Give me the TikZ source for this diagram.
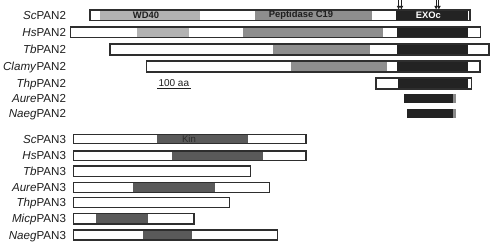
\documentclass[tikz,border=0pt]{standalone}
\usepackage{fontspec}
\setmainfont{Liberation Sans}
\usetikzlibrary{arrows.meta}
\definecolor{ink}{HTML}{1E1E1E}
\definecolor{edge}{HTML}{2E2E2E}
\definecolor{wdfill}{HTML}{B2B2B2}
\definecolor{pepfill}{HTML}{8E8E8E}
\definecolor{exofill}{HTML}{232323}
\definecolor{kinfill}{HTML}{5A5A5A}
\definecolor{kinink}{HTML}{2C2C2C}
\definecolor{tipfill}{HTML}{8A8A8A}
\tikzset{
  species/.style={anchor=base east,font=\fontsize{11.6bp}{13bp}\selectfont,text=ink},
  domainlabel/.style={anchor=center,font=\fontsize{9.4bp}{11bp}\selectfont\bfseries,text=ink},
  barlabel/.style={anchor=base,font=\fontsize{10bp}{12bp}\selectfont,text=ink},
  protein/.style={draw=edge,line width=1.3bp},
  backbone/.style={fill=white},
  wd/.style={fill=wdfill},
  pep/.style={fill=pepfill},
  exo/.style={fill=exofill},
  kin/.style={fill=kinfill},
  endtip/.style={fill=tipfill},
  site/.style={draw=ink,line width=1bp,-{Triangle[length=3.6bp,width=3.4bp]}}
}
\begin{document}
\begin{tikzpicture}[x=1bp,y=-1bp,every node/.style={inner sep=0pt,outer sep=0pt}]
\path[use as bounding box] (0,0) rectangle (490,243);

% PAN2 family
\node[species] (sc2-name) at (66,19.3) {\textit{Sc}PAN2};
\fill[backbone] (90,10) rectangle (470,20.7);
\fill[wd] (100,10) rectangle (199.5,20.7);
\fill[pep] (255,10) rectangle (372,20.7);
\fill[exo] (395.7,10) rectangle (467.7,20.7);
\draw[protein] (90,10) rectangle (470,20.7);
\node[domainlabel] (sc2-wd) at (146,15.5) {WD40};
\node[domainlabel] (sc2-pep) at (301,15.5) {Peptidase C19};
\node[domainlabel,text=white] (sc2-exo) at (428.3,15.5) {EXOc};

\coordinate (site1a-top) at (398.6,0);
\coordinate (site1a-tip) at (398.6,9.4);
\coordinate (site1b-top) at (401.4,0);
\coordinate (site1b-tip) at (401.4,9.4);
\coordinate (site2a-top) at (436.1,0);
\coordinate (site2a-tip) at (436.1,9.4);
\coordinate (site2b-top) at (438.9,0);
\coordinate (site2b-tip) at (438.9,9.4);
\draw[site] (site1a-top) -- (site1a-tip);
\draw[site] (site1b-top) -- (site1b-tip);
\draw[site] (site2a-top) -- (site2a-tip);
\draw[site] (site2b-top) -- (site2b-tip);

\node[species] (hs2-name) at (66,36.3) {\textit{Hs}PAN2};
\fill[backbone] (70.7,27) rectangle (480.7,37.7);
\fill[wd] (136.7,27) rectangle (189,37.7);
\fill[pep] (243,27) rectangle (383,37.7);
\fill[exo] (396.7,27) rectangle (467.7,37.7);
\draw[protein] (70.7,27) rectangle (480.7,37.7);

\node[species] (tb2-name) at (66,53.5) {\textit{Tb}PAN2};
\fill[backbone] (110,44) rectangle (489,55);
\fill[pep] (273,44) rectangle (370,55);
\fill[exo] (396.7,44) rectangle (467.7,55);
\draw[protein] (110,44) rectangle (489,55);

\node[species] (clamy2-name) at (66,70.5) {\textit{Clamy}PAN2};
\fill[backbone] (146.7,61) rectangle (480,72);
\fill[pep] (290.7,61) rectangle (387.3,72);
\fill[exo] (396.7,61) rectangle (467.7,72);
\draw[protein] (146.7,61) rectangle (480,72);

\node[species] (thp2-name) at (66,87.5) {\textit{Thp}PAN2};
\fill[backbone] (376,78) rectangle (471.7,89);
\fill[exo] (397.7,78) rectangle (468.3,89);
\draw[protein] (376,78) rectangle (471.7,89);

\node[species] (aure2-name) at (66,102.8) {\textit{Aure}PAN2};
\fill[exo] (404.3,94.3) rectangle (453.3,103.3);
\fill[endtip] (453.3,94.3) rectangle (455.7,103.3);

\node[species] (naeg2-name) at (66,117.7) {\textit{Naeg}PAN2};
\fill[exo] (406.7,109.2) rectangle (453.3,118.2);
\fill[endtip] (453.3,109.2) rectangle (455.7,118.2);

% scale bar
\coordinate (bar-left) at (157,88.5);
\coordinate (bar-right) at (190.7,88.5);
\draw[draw=ink,line width=0.9bp] (bar-left) -- (bar-right);
\node[barlabel] (bar-label) at (173.8,86) {100 aa};

% PAN3 family
\node[species] (sc3-name) at (66,143) {\textit{Sc}PAN3};
\fill[backbone] (73.3,134.3) rectangle (306,143.3);
\fill[kin] (156.7,134.3) rectangle (248.3,143.3);
\draw[protein] (73.3,134.3) rectangle (306,143.3);
\node[domainlabel,font=\fontsize{9.6bp}{11bp}\selectfont,text=kinink] (sc3-kin) at (189,139) {Kin};

\node[species] (hs3-name) at (66,159.9) {\textit{Hs}PAN3};
\fill[backbone] (73.3,151) rectangle (306,160.7);
\fill[kin] (171.7,151) rectangle (263.3,160.7);
\draw[protein] (73.3,151) rectangle (306,160.7);

\node[species] (tb3-name) at (66,175.4) {\textit{Tb}PAN3};
\fill[backbone] (73.3,166) rectangle (250.7,176.7);
\draw[protein] (73.3,166) rectangle (250.7,176.7);

\node[species] (aure3-name) at (66,191.3) {\textit{Aure}PAN3};
\fill[backbone] (73.3,182.3) rectangle (269.3,192.3);
\fill[kin] (133.3,182.3) rectangle (215,192.3);
\draw[protein] (73.3,182.3) rectangle (269.3,192.3);

\node[species] (thp3-name) at (66,206.7) {\textit{Thp}PAN3};
\fill[backbone] (73.3,197.7) rectangle (229.3,207.7);
\draw[protein] (73.3,197.7) rectangle (229.3,207.7);

\node[species] (micp3-name) at (66,222.7) {\textit{Micp}PAN3};
\fill[backbone] (73.3,213.3) rectangle (194,224);
\fill[kin] (96,213.3) rectangle (148.3,224);
\draw[protein] (73.3,213.3) rectangle (194,224);

\node[species] (naeg3-name) at (66,239) {\textit{Naeg}PAN3};
\fill[backbone] (73.3,230) rectangle (277.3,240);
\fill[kin] (142.7,230) rectangle (191.7,240);
\draw[protein] (73.3,230) rectangle (277.3,240);
\end{tikzpicture}
\end{document}
